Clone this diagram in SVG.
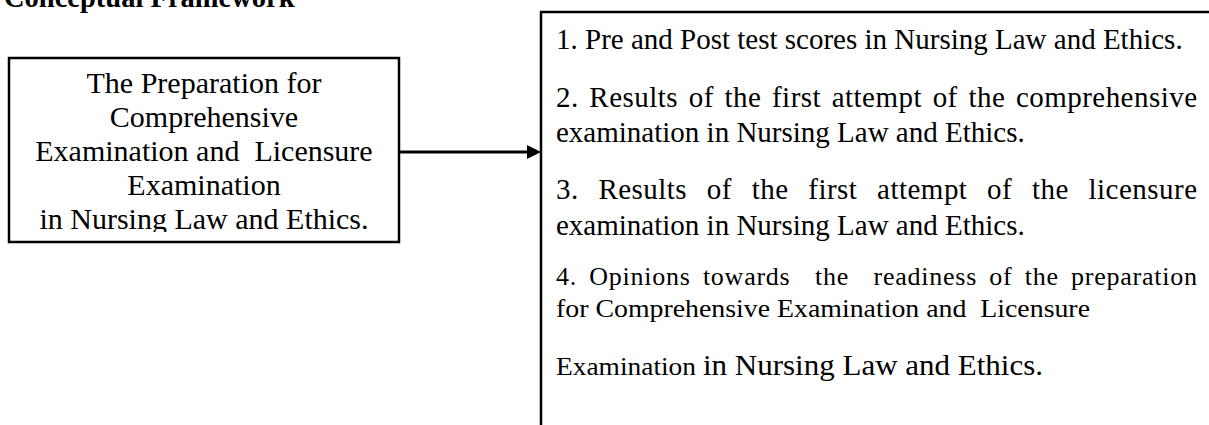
<svg xmlns="http://www.w3.org/2000/svg" width="1209" height="425" viewBox="0 0 1209 425">
<style>
.box{fill:#fff;stroke:#000;stroke-width:2.5}
.t{font-family:"Liberation Serif","Times New Roman",serif;fill:#000}
.lb{font-size:30px;text-anchor:middle}
.rt{font-size:29px}
.op{font-size:26px}
.conn{stroke:#000;stroke-width:3;fill:none}
</style>
<defs>
<clipPath id="lclip"><rect x="0" y="0" width="400" height="232"/></clipPath>
</defs>
<rect width="1209" height="425" fill="#fff"/>
<text class="t" x="4" y="7" font-weight="bold" font-size="28.5px">Conceptual Framework</text>
<g id="node-preparation">
<rect class="box" x="9" y="58" width="390" height="184"/>
<g clip-path="url(#lclip)">
<text class="t lb" x="204" y="93">The Preparation for</text>
<text class="t lb" x="204" y="127">Comprehensive</text>
<text class="t lb" x="204" y="161" xml:space="preserve">Examination and  Licensure</text>
<text class="t lb" x="204" y="195">Examination</text>
<text class="t lb" x="204" y="229">in Nursing Law and Ethics.</text>
</g>
</g>
<g id="node-outcomes">
<path class="box" d="M1212,12 H541 V428"/>
<text class="t rt" x="556" y="49">1. Pre and Post test scores in Nursing Law and Ethics.</text>
<text class="t rt" x="556" y="107" textLength="641" lengthAdjust="spacing" word-spacing="3">2. Results of the first attempt of the comprehensive</text>
<text class="t rt" x="556" y="142">examination in Nursing Law and Ethics.</text>
<text class="t rt" x="556" y="199" textLength="641" lengthAdjust="spacing" word-spacing="12">3. Results of the first attempt of the licensure</text>
<text class="t rt" x="556" y="235">examination in Nursing Law and Ethics.</text>
<text class="t op" x="556" y="285" textLength="641" lengthAdjust="spacing" word-spacing="5" xml:space="preserve">4. Opinions towards  the  readiness of the preparation</text>
<text class="t op" x="556" y="317" textLength="534" lengthAdjust="spacingAndGlyphs" xml:space="preserve">for Comprehensive Examination and  Licensure</text>
<text class="t op" x="556" y="375" textLength="140" lengthAdjust="spacingAndGlyphs">Examination</text>
<text class="t" x="703" y="375" font-size="28.7px" textLength="340" lengthAdjust="spacingAndGlyphs">in Nursing Law and Ethics.</text>
</g>
<g id="connectors">
<line class="conn" x1="399" y1="152" x2="528" y2="152"/>
<path d="M527,145 L541,152 L527,159 Z" fill="#000"/>
</g>
</svg>
